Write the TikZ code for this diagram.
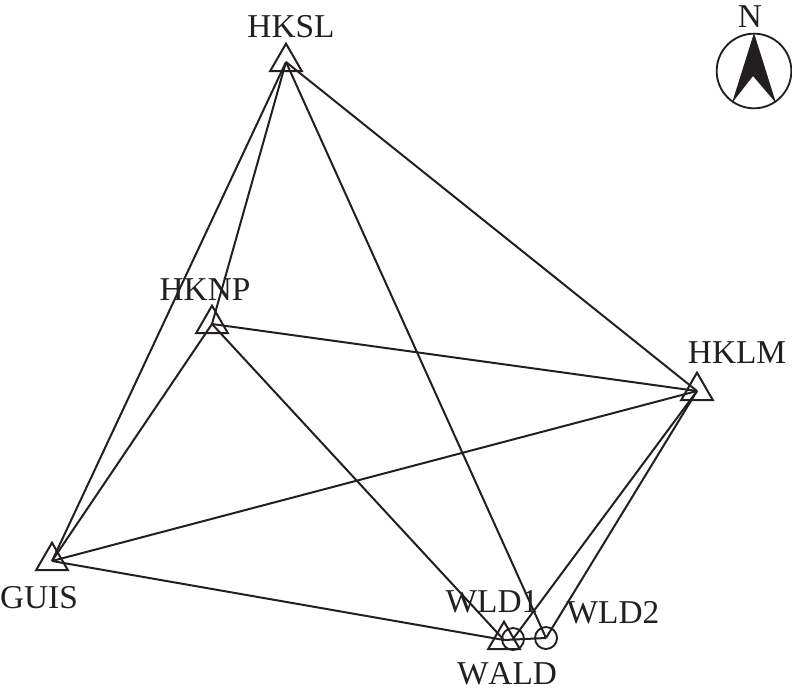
\documentclass[tikz,border=0pt]{standalone}
\usepackage{fontspec}
\setmainfont[Kerning=Off]{Liberation Serif}
\usepackage{xcolor}
\usetikzlibrary{shapes.geometric}
\definecolor{inkdark}{HTML}{231F20}

\begin{document}
\begin{tikzpicture}[
  x=0.75pt, y=-0.75pt,
  station/.style={regular polygon, regular polygon sides=3, draw=inkdark, line width=1.5pt, minimum size=27.5pt, inner sep=0pt, outer sep=0pt},
  stnpoint/.style={circle, draw=inkdark, line width=1.4pt, minimum size=16.5pt, inner sep=0pt, outer sep=0pt},
  compass/.style={circle, draw=inkdark, line width=1.4pt, minimum size=56pt, inner sep=0pt, outer sep=0pt},
  stnlabel/.style={font=\fontsize{25}{27}\selectfont, text=inkdark, inner sep=0pt},
  link/.style={draw=inkdark, line width=1.5pt}
]
  \useasboundingbox (0, 0) rectangle (792, 695);

  % Stations
  \node[station] (hksl) at (286, 62) {};
  \node[station] (hknp) at (212, 324) {};
  \node[station] (hklm) at (697, 391) {};
  \node[station] (guis) at (52, 561) {};
  \node[station] (wald) at (504, 640) {};
  \node[stnpoint] (wld1) at (513, 639) {};
  \node[stnpoint] (wld2) at (546, 638) {};

  % Baselines
  \draw[link] (hksl.center) -- (guis.center);
  \draw[link] (hksl.center) -- (hknp.center);
  \draw[link] (hksl.center) -- (hklm.center);
  \draw[link] (hksl.center) -- (wld2.center);
  \draw[link] (hknp.center) -- (guis.center);
  \draw[link] (hknp.center) -- (hklm.center);
  \draw[link] (hknp.center) -- (wald.center);
  \draw[link] (guis.center) -- (hklm.center);
  \draw[link] (guis.center) -- (wald.center);
  \draw[link] (wald.center) -- (wld2.center);
  \draw[link] (wld1.center) -- (hklm.center);
  \draw[link] (wld2.center) -- (hklm.center);

  % Labels
  \node[stnlabel] (lhksl) at (291, 27) {HKSL};
  \node[stnlabel] (lhknp) at (205, 290) {HKNP};
  \node[stnlabel] (lhklm) at (737, 353) {HKLM};
  \node[stnlabel] (lguis) at (39, 598) {GUIS};
  \node[stnlabel] (lwld1) at (492, 602) {WLD1};
  \node[stnlabel] (lwld2) at (613, 613) {WLD2};
  \node[stnlabel] (lwald) at (507, 674) {WALD};

  % North arrow
  \node[compass] (ring) at (754, 71) {};
  \node[stnlabel] (north) at (750, 17) {N};
  \fill[inkdark] (754, 33) -- (776, 103) -- (753, 76) -- (732, 103) -- cycle;
\end{tikzpicture}
\end{document}
